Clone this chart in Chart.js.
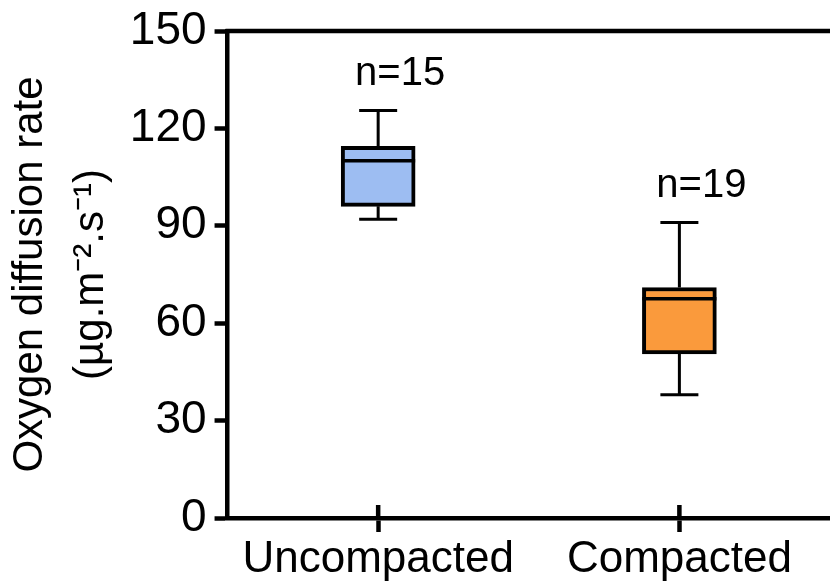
<!DOCTYPE html>
<html>
<head>
<meta charset="utf-8">
<script src="https://cdn.jsdelivr.net/npm/chart.js@4/dist/chart.umd.min.js"></script>
<style>
  body { margin: 0; background: #fff; }
  #wrap { width: 830px; height: 588px; }
</style>
</head>
<body>
<div id="wrap"><canvas id="myChart" width="830" height="588"></canvas></div>
<script>
// box plot values
var categories = ['Uncompacted', 'Compacted'];
var minValues = [92, 38];
var q1Values = [96, 50.5];
var medianValues = [110, 67.5];
var q3Values = [114.5, 71];
var maxValues = [125.5, 91];
var sampleSizes = [15, 19];
var yTicks = [0, 30, 60, 90, 120, 150];

var fontFamily = '"Liberation Sans", Arial, Helvetica, sans-serif';

// whiskers, medians, n= labels, top frame line
var boxExtras = {
  id: 'boxExtras',
  afterDatasetsDraw: function (chart) {
    var ctx = chart.ctx;
    var x = chart.scales.x, y = chart.scales.y;
    var meta = chart.getDatasetMeta(0);
    ctx.save();
    ctx.strokeStyle = '#000';
    ctx.lineCap = 'butt';
    for (var i = 0; i < categories.length; i++) {
      var bar = meta.data[i];
      var cx = x.getPixelForValue(i);
      var half = bar.width / 2;
      var cap = 19;
      ctx.lineWidth = 3;
      // upper whisker
      ctx.beginPath();
      ctx.moveTo(cx, y.getPixelForValue(q3Values[i]));
      ctx.lineTo(cx, y.getPixelForValue(maxValues[i]));
      ctx.moveTo(cx - cap, y.getPixelForValue(maxValues[i]));
      ctx.lineTo(cx + cap, y.getPixelForValue(maxValues[i]));
      // lower whisker
      ctx.moveTo(cx, y.getPixelForValue(q1Values[i]));
      ctx.lineTo(cx, y.getPixelForValue(minValues[i]));
      ctx.moveTo(cx - cap, y.getPixelForValue(minValues[i]));
      ctx.lineTo(cx + cap, y.getPixelForValue(minValues[i]));
      ctx.stroke();
      // median
      ctx.lineWidth = 3.5;
      ctx.beginPath();
      ctx.moveTo(cx - half, y.getPixelForValue(medianValues[i]));
      ctx.lineTo(cx + half, y.getPixelForValue(medianValues[i]));
      ctx.stroke();
      // n label
      ctx.fillStyle = '#000';
      ctx.font = '40px ' + fontFamily;
      ctx.textAlign = 'center';
      ctx.textBaseline = 'alphabetic';
      ctx.fillText('n=' + sampleSizes[i], cx + 22, y.getPixelForValue(maxValues[i]) - 26);
    }
    // x ticks reaching into the plot
    ctx.lineWidth = 4.5;
    ctx.beginPath();
    for (var j = 0; j < categories.length; j++) {
      var tx = x.getPixelForValue(j);
      ctx.moveTo(tx, chart.chartArea.bottom - 13);
      ctx.lineTo(tx, chart.chartArea.bottom);
    }
    ctx.stroke();
    // top frame
    ctx.beginPath();
    ctx.moveTo(chart.chartArea.left - 2, chart.chartArea.top);
    ctx.lineTo(chart.chartArea.right, chart.chartArea.top);
    ctx.stroke();
    ctx.restore();
  }
};

var ctx = document.getElementById('myChart');

new Chart(ctx, {
  type: 'bar',
  data: {
    labels: categories,
    datasets: [{
      data: q1Values.map(function (v, i) { return [v, q3Values[i]]; }),
      backgroundColor: ['#9dbdf2', '#fa9a3c'],
      borderColor: '#000',
      borderWidth: 4,
      borderSkipped: false,
      barThickness: 74
    }]
  },
  options: {
    responsive: false,
    devicePixelRatio: 1,
    animation: false,
    layout: { padding: { top: 8, right: -5, left: 0, bottom: 0 } },
    plugins: {
      legend: { display: false },
      tooltip: { enabled: false }
    },
    scales: {
      x: {
        offset: true,
        grid: { offset: false, drawOnChartArea: false, drawTicks: true, tickLength: 14, tickWidth: 4.5, tickColor: '#000' },
        border: { display: true, width: 4.5, color: '#000' },
        ticks: { color: '#000', font: { size: 44, family: fontFamily, lineHeight: 1 }, padding: 6 }
      },
      y: {
        min: 0,
        max: 150,
        afterBuildTicks: function (axis) {
          axis.ticks = yTicks.map(function (v) { return { value: v }; });
        },
        grid: { drawOnChartArea: false, drawTicks: true, tickLength: 13, tickWidth: 4.5, tickColor: '#000' },
        border: { display: true, width: 4.5, color: '#000' },
        ticks: { color: '#000', font: { size: 46, family: fontFamily, lineHeight: 1 }, padding: 8 },
        title: {
          display: true,
          text: ['Oxygen diffusion rate', '(\u00b5g.m\u207b\u00b2.s\u207b\u00b9)'],
          color: '#000',
          font: { size: 42, family: fontFamily, lineHeight: 1.45 },
          padding: { top: 0, bottom: 0 }
        }
      }
    }
  },
  plugins: [boxExtras]
});
</script>
</body>
</html>
